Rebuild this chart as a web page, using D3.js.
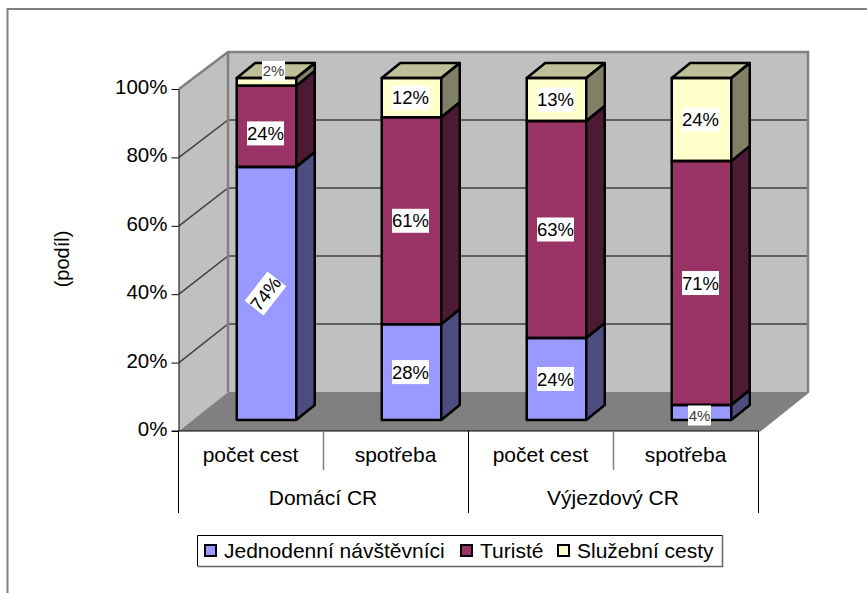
<!DOCTYPE html>
<html>
<head>
<meta charset="utf-8">
<script src="https://cdn.jsdelivr.net/npm/d3@7"></script>
<style>
  html, body { margin: 0; padding: 0; background: #fff; }
  svg { display: block; }
  text { font-family: "Liberation Sans", Arial, sans-serif; fill: #000; }
</style>
</head>
<body>
<div id="chart"></div>
<script>
const groups = ["Domácí CR", "Výjezdový CR"];
const categories = ["počet cest", "spotřeba", "počet cest", "spotřeba"];
const seriesNames = ["Jednodenní návštěvníci", "Turisté", "Služební cesty"];
const dayVisitors = [74, 28, 24, 4.4];
const tourists = [23.7, 60.5, 63.4, 71.3];
const business = [2.3, 11.5, 12.6, 24.3];
const dayLabels = ["74%", "28%", "24%", "4%"];
const touristLabels = ["24%", "61%", "63%", "71%"];
const businessLabels = ["2%", "12%", "13%", "24%"];
const yTicks = [0, 20, 40, 60, 80, 100];

const fronts = ["#9999ff", "#993366", "#ffffcc"];
const sides = ["#4d4d80", "#4d1a33", "#808066"];
const tops = ["#7373bf", "#732640", "#bfbf99"];

const width = 867, height = 593;
const svg = d3.select("#chart").append("svg")
  .attr("width", width)
  .attr("height", height);

// outer chart frame, only top and left are inside the picture
svg.append("path")
  .attr("d", "M7.5 593V9H867")
  .attr("fill", "none")
  .attr("stroke", "#808080")
  .attr("stroke-width", 2);

const x = d3.scaleBand()
  .domain(d3.range(categories.length))
  .range([179, 759])
  .paddingInner(85.5 / 145)
  .paddingOuter(85.5 / 290);
const y = d3.scaleLinear().domain([0, 100]).range([431, 89]);
const yBack = d3.scaleLinear().domain([0, 100]).range([392, 52]);

const wallDx = 49;                 // depth of the whole box
const barDx = 15, barDy = -11;     // where bars stand on the floor
const depthDx = 18.5, depthDy = -15; // bar thickness

const left = x.range()[0], right = x.range()[1];
const poly = pts => "M" + pts.map(p => p.join(" ")).join("L") + "Z";

// walls and floor
const box = svg.append("g");
box.append("path")
  .attr("d", poly([[left, y(0)], [left + wallDx, yBack(0)], [left + wallDx, yBack(100)], [left, y(100)]]))
  .attr("fill", "#c0c0c0");
box.append("path")
  .attr("d", poly([[left + wallDx, yBack(0)], [right + wallDx, yBack(0)], [right + wallDx, yBack(100)], [left + wallDx, yBack(100)]]))
  .attr("fill", "#c0c0c0");
box.append("path")
  .attr("d", poly([[left, y(0)], [left + wallDx, yBack(0)], [right + wallDx, yBack(0)], [right, y(0)]]))
  .attr("fill", "#808080");

// gridlines
box.selectAll(".grid")
  .data(yTicks.slice(1, -1))
  .enter().append("path")
    .attr("class", "grid")
    .attr("d", d => `M${left} ${y(d)}L${left + wallDx} ${yBack(d)}H${right + wallDx}`)
    .attr("fill", "none")
    .attr("stroke", "#404040")
    .attr("stroke-width", 1.5);

// wall outlines
box.append("path")
  .attr("d", `M${left} ${y(100)}L${left + wallDx} ${yBack(100)}H${right + wallDx}V${yBack(0)}L${right} ${y(0)}`)
  .attr("fill", "none")
  .attr("stroke", "#808080")
  .attr("stroke-width", 2.5);
box.append("path")
  .attr("d", `M${left + wallDx} ${yBack(100)}V${yBack(0)}`)
  .attr("stroke", "#808080")
  .attr("stroke-width", 2.5);

// y axis
const yAxis = svg.append("g")
  .attr("transform", `translate(${left - 0.5},0)`)
  .call(d3.axisLeft(y).tickValues(yTicks).tickFormat(d => d + "%").tickSize(7).tickPadding(4));
yAxis.selectAll("text").style("font-size", "20.5px").style("font-family", "'Liberation Sans', Arial, sans-serif").attr("dy", "0.22em");
yAxis.selectAll("path, line").attr("stroke", "#000");
yAxis.select(".domain").attr("d", `M0.5 ${y(100)}V${y(0)}`);

svg.append("text")
  .attr("transform", "translate(69,259) rotate(-90)")
  .attr("text-anchor", "middle")
  .style("font-size", "20px")
  .text("(podíl)");

// stacked 3D bars
const rows = categories.map((c, i) => ({ i, a: dayVisitors[i], b: tourists[i], c: business[i] }));
const stacked = d3.stack().keys(["a", "b", "c"])(rows);
const barsG = svg.append("g");
const labelData = [dayLabels, touristLabels, businessLabels];
const labels = [];

categories.forEach((c, i) => {
  const x0 = x(i) + barDx, x1 = x0 + x.bandwidth();
  const g = barsG.append("g");
  stacked.forEach((layer, s) => {
    const yb = y(layer[i][0]) + barDy, yt = y(layer[i][1]) + barDy;
    g.append("path")
      .attr("d", poly([[x1, yb], [x1 + depthDx, yb + depthDy], [x1 + depthDx, yt + depthDy], [x1, yt]]))
      .attr("fill", sides[s]);
    g.append("path")
      .attr("d", poly([[x0, yb], [x1, yb], [x1, yt], [x0, yt]]))
      .attr("fill", fronts[s]);
    if (s === stacked.length - 1) {
      g.append("path")
        .attr("d", poly([[x0, yt], [x1, yt], [x1 + depthDx, yt + depthDy], [x0 + depthDx, yt + depthDy]]))
        .attr("fill", tops[s]);
    }
    labels.push({ text: labelData[s][i], bar: i, series: s, cx: (x0 + x1) / 2 - 1, cy: (yb + yt) / 2, size: layer[i][1] - layer[i][0] });
  });
  // black edges go on top so the joints stay clean
  stacked.forEach((layer, s) => {
    const yb = y(layer[i][0]) + barDy, yt = y(layer[i][1]) + barDy;
    g.append("path")
      .attr("d", poly([[x0, yb], [x1, yb], [x1, yt], [x0, yt]]) +
        poly([[x1, yb], [x1 + depthDx, yb + depthDy], [x1 + depthDx, yt + depthDy], [x1, yt]]))
      .attr("fill", "none")
      .attr("stroke", "#000")
      .attr("stroke-width", 2.5)
      .attr("stroke-linejoin", "round");
    if (s === stacked.length - 1) {
      g.append("path")
        .attr("d", poly([[x0, yt], [x1, yt], [x1 + depthDx, yt + depthDy], [x0 + depthDx, yt + depthDy]]))
        .attr("fill", "none")
        .attr("stroke", "#000")
        .attr("stroke-width", 2.5)
        .attr("stroke-linejoin", "round");
    }
  });
});

// data labels with white boxes
const labelG = svg.append("g");
labels.forEach(d => {
  const small = d.size < 5;
  let cx = d.cx, cy = d.cy, rot = 0;
  if (small && d.text === "2%") { cx += 8; cy -= 11; }
  if (small && d.text === "4%") { cx -= 1; cy += 3; }
  if (d.text === "74%") rot = -52;
  if (d.bar === 0 && d.series === 1) cy += 7;
  const w = small ? 23 : 37, h = small ? 20 : 24;
  const g = labelG.append("g").attr("transform", `translate(${cx},${cy}) rotate(${rot})`);
  g.append("rect")
    .attr("x", -w / 2).attr("y", -h / 2)
    .attr("width", w).attr("height", h)
    .attr("fill", "#fff");
  g.append("text")
    .attr("text-anchor", "middle")
    .attr("dy", "0.36em")
    .style("font-size", small ? "15px" : "18.5px")
    .style("fill", small ? "#404040" : "#000")
    .text(d.text);
});

// category axis
const axisY = y(0);
svg.append("line").attr("x1", left - 7).attr("x2", right).attr("y1", axisY).attr("y2", axisY).attr("stroke", "#000");
const step = x.step();
d3.range(categories.length + 1).forEach(i => {
  const major = i % 2 === 0;
  svg.append("line")
    .attr("x1", left - 0.5 + i * step).attr("x2", left - 0.5 + i * step)
    .attr("y1", axisY).attr("y2", major ? 513 : 470)
    .attr("stroke", major ? "#000" : "#808080")
    .attr("stroke-width", major ? 1 : 1.5);
});
svg.selectAll(".cat")
  .data(categories)
  .enter().append("text")
    .attr("class", "cat")
    .attr("x", (d, i) => left - 1 + (i + 0.5) * step)
    .attr("y", 462)
    .attr("text-anchor", "middle")
    .style("font-size", "21px")
    .text(d => d);
svg.selectAll(".grp")
  .data(groups)
  .enter().append("text")
    .attr("class", "grp")
    .attr("x", (d, i) => left - 1 + (2 * i + 1) * step)
    .attr("y", 505)
    .attr("text-anchor", "middle")
    .style("font-size", "21px")
    .text(d => d);

// legend
const legend = svg.append("g");
legend.append("path").attr("d", "M197.5 566V535.5H722").attr("fill", "none").attr("stroke", "#000").attr("stroke-width", 1);
legend.append("path").attr("d", "M197.5 566.5H722.5V535").attr("fill", "none").attr("stroke", "#666").attr("stroke-width", 1.5);
const legendX = [205, 461, 558];
seriesNames.forEach((name, i) => {
  legend.append("rect")
    .attr("x", legendX[i]).attr("y", 545)
    .attr("width", 11).attr("height", 11)
    .attr("fill", fronts[i])
    .attr("stroke", "#000")
    .attr("stroke-width", 2);
  legend.append("text")
    .attr("x", legendX[i] + 19).attr("y", 558)
    .style("font-size", "21px")
    .text(name);
});
</script>
</body>
</html>
